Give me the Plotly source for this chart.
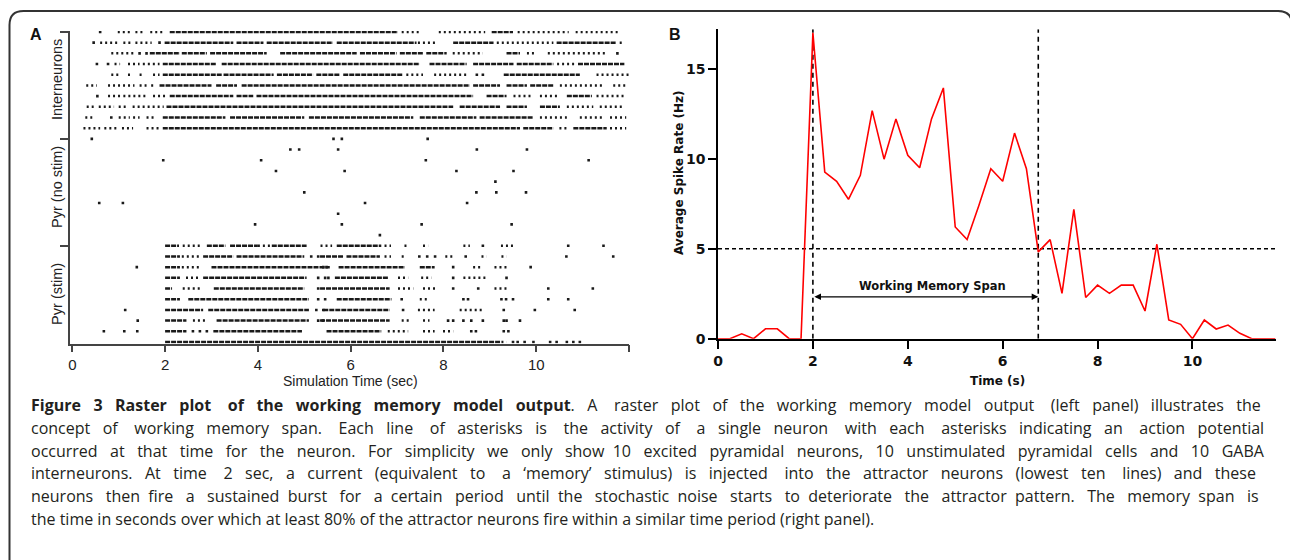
import plotly.graph_objects as go

W, H = 1290, 560


def px(x):
    return x / W


def py(y):
    return 1 - y / H


# ---------------- Panel A : raster (times in seconds, row index 0..29) ----------------
# Interneurons (rows 20-29): dense firing stretches, sparse stretches, isolated spikes
inter_dense = {
    29: [[2.10, 7.02], [9.04, 9.50]],
    28: [[1.99, 3.47], [3.54, 4.12], [4.19, 5.62], [5.70, 7.42], [8.21, 9.08], [10.44, 11.73]],
    27: [[1.67, 2.32], [2.36, 2.90], [2.97, 4.19], [4.48, 6.13], [6.20, 6.99], [7.06, 7.56], [7.63, 8.07], [9.36, 9.65]],
    26: [[1.95, 3.11], [3.22, 7.49], [7.70, 8.50], [8.64, 9.51], [9.58, 10.37], [10.90, 11.90]],
    25: [[1.95, 3.22], [3.26, 4.34], [4.41, 5.19], [5.26, 5.77], [5.84, 7.13], [9.30, 10.94]],
    24: [[1.88, 3.00], [3.10, 3.55], [3.65, 8.57], [8.64, 9.22], [9.36, 9.80], [9.87, 10.37]],
    23: [[2.10, 3.47], [3.54, 3.90], [3.97, 8.64], [8.93, 9.36], [10.66, 11.20]],
    22: [[2.03, 8.21], [8.35, 9.22], [9.36, 9.80], [10.08, 10.51]],
    21: [[1.95, 3.30], [3.40, 5.00], [5.10, 7.35], [7.49, 8.71], [8.78, 9.94]],
    20: [[1.95, 9.65], [9.72, 10.37], [10.80, 11.52]],
}
inter_sparse = {
    29: [[0.98, 1.29], [1.36, 1.53], [1.68, 2.00], [7.10, 7.50], [7.90, 8.90], [9.60, 10.70], [10.85, 11.80]],
    28: [[0.60, 1.03], [1.10, 1.29], [1.36, 1.71], [7.45, 7.88], [9.15, 10.37], [11.80, 11.90]],
    27: [[0.84, 1.34], [8.20, 8.85], [9.80, 10.00], [10.25, 11.50]],
    26: [[0.91, 1.03], [1.20, 1.45], [1.52, 1.88], [10.45, 10.85]],
    25: [[0.84, 1.00], [1.20, 1.30], [1.45, 1.55], [1.74, 1.88], [7.20, 7.56], [7.80, 8.50], [11.30, 12.00]],
    24: [[0.30, 0.53], [0.77, 1.34], [1.45, 1.60], [1.70, 1.80], [10.51, 11.45], [11.66, 11.94]],
    23: [[0.77, 1.03], [1.10, 1.60], [1.74, 2.03], [9.51, 9.94], [10.08, 10.51], [11.30, 11.94]],
    22: [[0.31, 0.46], [0.57, 0.90], [1.00, 1.15], [1.30, 1.97], [10.66, 11.23], [11.37, 11.87]],
    21: [[0.28, 0.43], [1.00, 1.24], [1.31, 1.45], [1.60, 1.80], [10.08, 10.66], [10.94, 11.45], [11.59, 11.94]],
    20: [[0.24, 0.60], [0.69, 0.98], [1.07, 1.31], [1.60, 1.90], [10.50, 10.66], [11.59, 11.94]],
}
inter_spikes = {
    29: [0.60], 28: [0.46, 1.88], 27: [1.45, 1.60, 11.75], 26: [0.53, 0.77],
    25: [8.72, 8.85], 23: [0.54], 21: [0.84],
}

# Pyramidal, not stimulated (rows 10-19): isolated spikes only
nostim_spikes = {
    19: [0.42, 5.63, 5.81, 7.66],
    18: [4.70, 4.89, 5.73, 8.72, 9.80],
    17: [1.96, 4.07, 7.62, 11.13],
    16: [4.39, 5.87, 8.28, 9.51],
    15: [9.12],
    14: [5.00, 8.71, 9.14, 9.78],
    13: [0.58, 1.09, 6.31, 8.51],
    12: [5.73],
    11: [3.94, 5.81, 7.53, 9.47],
    10: [6.63],
}

# Pyramidal, stimulated (rows 0-9)
stim_dense = {
    9: [[2.00, 2.30], [2.90, 3.30], [3.40, 4.00], [4.30, 5.05], [5.70, 6.66]],
    8: [[2.00, 2.32], [2.82, 3.47], [3.54, 5.00], [5.34, 5.84], [5.91, 6.63]],
    7: [[2.00, 2.32], [3.00, 5.55], [5.74, 7.17], [7.49, 7.81]],
    6: [[2.00, 2.32], [2.82, 5.05], [5.66, 6.81]],
    5: [[2.00, 2.15], [3.05, 5.00], [5.34, 6.84]],
    4: [[2.00, 2.32], [2.50, 5.10], [5.70, 6.88]],
    3: [[2.00, 2.82], [2.93, 5.10], [5.41, 6.84]],
    2: [[2.00, 2.46], [3.11, 5.10], [5.34, 6.84]],
    1: [[2.00, 2.46], [3.04, 4.95], [5.48, 6.66]],
    0: [[2.00, 9.22]],
}
stim_sparse = {
    9: [[2.38, 2.75], [4.00, 4.30], [5.35, 5.60], [6.73, 6.87], [7.16, 7.24], [7.56, 7.67], [8.43, 8.57], [9.24, 9.50]],
    8: [[2.36, 2.75], [6.73, 6.87], [7.10, 7.20], [8.04, 8.21], [8.82, 8.93], [9.25, 9.36]],
    7: [[2.36, 2.75], [8.64, 8.82], [9.10, 9.36]],
    6: [[2.45, 2.75], [7.02, 7.24], [7.52, 7.74], [8.43, 8.93]],
    5: [[2.38, 2.75], [7.02, 7.35], [7.56, 7.88], [9.10, 9.36]],
    4: [[7.49, 7.70]],
    3: [[7.45, 7.81], [8.35, 8.85]],
    2: [[2.60, 2.89], [7.10, 7.31], [7.56, 7.70]],
    1: [[6.80, 7.24], [7.56, 7.81], [7.99, 8.21]],
    0: [[9.25, 9.36]],
}
stim_spikes = {
    9: [8.85, 10.69, 11.45],
    8: [5.15, 5.30, 7.48, 7.65, 7.82, 8.48, 10.65, 11.66],
    7: [1.39, 5.41, 5.48, 8.21, 9.88],
    6: [5.30, 5.45, 5.52, 8.21, 9.36],
    5: [5.30, 8.21, 8.75, 10.26, 11.22],
    4: [5.30, 5.45, 7.10, 8.43, 8.53, 9.25, 9.35, 9.50, 10.26, 10.69],
    3: [1.14, 5.26, 5.41, 7.13, 9.30, 9.97, 10.83],
    2: [1.41, 5.30, 5.40, 8.10, 8.21, 8.43, 8.60, 8.85, 9.30, 9.36, 9.65],
    1: [0.68, 1.12, 1.40, 2.60, 2.75, 2.90, 8.60, 8.70, 9.30, 9.40],
    0: [9.50, 9.60, 9.75, 9.94, 10.30, 10.44, 10.66, 10.80, 10.94],
}

raster_ticks = [9, 19, 29]
group_labels = ["Pyr (stim)", "Pyr (no stim)", "Interneurons"]
group_centers = [4.5, 14.5, 24.5]
raster_xticks = [0, 2, 4, 6, 8, 10, 12]
raster_xticktext = ["0", "2", "4", "6", "8", "10", ""]

# ---------------- Panel B : average spike rate ----------------
rate_time = [0, 0.25, 0.5, 0.75, 1.0, 1.25, 1.5, 1.75, 2.0, 2.25, 2.5, 2.75,
             3.0, 3.25, 3.5, 3.75, 4.0, 4.25, 4.5, 4.75, 5.0, 5.25, 5.5, 5.75,
             6.0, 6.25, 6.5, 6.75, 7.0, 7.25, 7.5, 7.75, 8.0, 8.25, 8.5, 8.75,
             9.0, 9.25, 9.5, 9.75, 10.0, 10.25, 10.5, 10.75, 11.0, 11.25, 11.5, 11.75]
rate_hz = [0, 0, 0.27, 0, 0.55, 0.55, 0, 0, 17.0, 9.26, 8.75, 7.75,
           9.08, 12.68, 9.98, 12.22, 10.2, 9.5, 12.22, 13.94, 6.21, 5.51, 7.42, 9.45,
           8.75, 11.43, 9.45, 4.83, 5.51, 2.52, 7.19, 2.29, 2.98, 2.52, 2.98, 2.98,
           1.54, 5.25, 1.04, 0.8, 0, 1.04, 0.54, 0.76, 0.3, 0, 0, 0]
span_start, span_end = 2.0, 6.75
threshold = 5
arrow_level = 2.33
span_label = "Working Memory Span"
rate_xticks = [0, 2, 4, 6, 8, 10]
rate_yticks = [0, 5, 10, 15]
rate_xmax, rate_ymax = 11.75, 17.2

caption_lines = [
    "<b>Figure 3 Raster plot of the working memory model output</b>. A raster plot of the working memory model output (left panel) illustrates the",
    "concept of working memory span. Each line of asterisks is the activity of a single neuron with each asterisks indicating an action potential",
    "occurred at that time for the neuron. For simplicity we only show 10 excited pyramidal neurons, 10 unstimulated pyramidal cells and 10 GABA",
    "interneurons. At time 2 sec, a current (equivalent to a \u2018memory\u2019 stimulus) is injected into the attractor neurons (lowest ten lines) and these",
    "neurons then fire a sustained burst for a certain period until the stochastic noise starts to deteriorate the attractor pattern. The memory span is",
    "the time in seconds over which at least 80% of the attractor neurons fire within a similar time period (right panel).",
]
# extra non-breaking spaces used to justify each caption line (layout only)
caption_pad = [47, 52, 43, 48, 38, 0]


def justify(line, extra):
    words = line.split(" ")
    gaps = len(words) - 1
    if extra <= 0 or gaps <= 0:
        return line
    out = words[0]
    given = 0
    for i in range(1, len(words)):
        target = round(extra * i / gaps)
        n = target - given
        given = target
        out += " " + "\u00a0" * n + words[i]
    return out


def seg_xy(*dicts):
    xs, ys = [], []
    for d in dicts:
        for row, ivs in d.items():
            for s, e in ivs:
                xs += [s, e, None]
                ys += [row, row, None]
    return xs, ys


def pts_xy(*dicts):
    xs, ys = [], []
    for d in dicts:
        for row, ts in d.items():
            xs += ts
            ys += [row] * len(ts)
    return xs, ys


INK = "#1a1a1a"
fig = go.Figure()

dx, dy = seg_xy(inter_dense, stim_dense)
fig.add_trace(go.Scatter(x=dx, y=dy, mode="lines", xaxis="x", yaxis="y",
                         line=dict(color=INK, width=2.5, dash="5px,1px"), hoverinfo="skip"))
sx, sy = seg_xy(inter_sparse, stim_sparse)
fig.add_trace(go.Scatter(x=sx, y=sy, mode="lines", xaxis="x", yaxis="y",
                         line=dict(color=INK, width=2.5, dash="2px,3px"), hoverinfo="skip"))
kx, ky = pts_xy(inter_spikes, nostim_spikes, stim_spikes)
fig.add_trace(go.Scatter(x=kx, y=ky, mode="markers", xaxis="x", yaxis="y",
                         marker=dict(symbol="square", size=2.6, color=INK, line=dict(width=0)),
                         hoverinfo="skip"))

# Panel B traces
fig.add_trace(go.Scatter(x=[0, rate_xmax], y=[threshold, threshold], mode="lines",
                         xaxis="x2", yaxis="y2",
                         line=dict(color="black", width=1.4, dash="4px,3px"), hoverinfo="skip"))
for t in (span_start, span_end):
    fig.add_trace(go.Scatter(x=[t, t], y=[0, rate_ymax], mode="lines", xaxis="x2", yaxis="y2",
                             line=dict(color="black", width=1.6, dash="5px,4px"), hoverinfo="skip"))
fig.add_trace(go.Scatter(x=rate_time, y=rate_hz, mode="lines", xaxis="x2", yaxis="y2",
                         line=dict(color="#ff0000", width=1.6), hoverinfo="skip"))

axis_common = dict(showgrid=False, zeroline=False, showline=True, ticks="outside", automargin=False)

fig.update_layout(
    template="none",
    width=W, height=H, autosize=False,
    margin=dict(l=0, r=0, t=0, b=0, pad=0, autoexpand=False),
    paper_bgcolor="white", plot_bgcolor="rgba(0,0,0,0)",
    showlegend=False,
    xaxis=dict(domain=[px(70), px(629)], range=[-0.05, 12], anchor="y",
               tickvals=raster_xticks, ticktext=raster_xticktext,
               linecolor="#444", linewidth=1.5, tickcolor="#444", tickwidth=1.5, ticklen=7,
               tickfont=dict(family="Liberation Sans", size=15, color="#222"),
               **axis_common),
    yaxis=dict(domain=[py(343.5), py(31)], range=[-0.14, 29.09], anchor="x",
               tickvals=raster_ticks, ticktext=["", "", ""],
               linecolor="#444", linewidth=1.5, tickcolor="#444", tickwidth=1.5, ticklen=8,
               **axis_common),
    xaxis2=dict(domain=[px(718), px(1275.5)], range=[0, rate_xmax], anchor="y2",
                tickvals=rate_xticks,
                linecolor="black", linewidth=1.5, tickcolor="black", tickwidth=1.5, ticklen=9,
                tickfont=dict(family="DejaVu Sans", size=14, color="#111", weight="bold"),
                **axis_common),
    yaxis2=dict(domain=[py(338.7), py(29.3)], range=[0, rate_ymax], anchor="x2",
                tickvals=rate_yticks,
                linecolor="black", linewidth=1.5, tickcolor="black", tickwidth=1.5, ticklen=8,
                tickfont=dict(family="DejaVu Sans", size=14, color="#111", weight="bold"),
                **axis_common),
)

C = dict(xanchor="center", yanchor="middle", showarrow=False)
ann = []
# panel letters
ann.append(dict(text="<b>A</b>", x=px(35.5), y=py(34), xref="paper", yref="paper",
                font=dict(family="Liberation Sans", size=16, color="#111"), **C))
ann.append(dict(text="<b>B</b>", x=px(675), y=py(34), xref="paper", yref="paper",
                font=dict(family="Liberation Sans", size=16, color="#111"), **C))
# raster group labels
for lab, c in zip(group_labels, group_centers):
    ann.append(dict(text=lab, x=px(57), y=c, xref="paper", yref="y", textangle=-90,
                    font=dict(family="Liberation Sans", size=14.5, color="#222"), **C))
ann.append(dict(text="Simulation Time (sec)", x=px(350), y=py(381), xref="paper", yref="paper",
                font=dict(family="Liberation Sans", size=14, color="#222"), **C))
# panel B titles
ann.append(dict(text="Average Spike Rate (Hz)", x=px(679), y=py(173), xref="paper", yref="paper",
                textangle=-90,
                font=dict(family="DejaVu Sans", size=12, color="#111", weight="bold"), **C))
ann.append(dict(text="Time (s)", x=px(997), y=py(381), xref="paper", yref="paper",
                font=dict(family="DejaVu Sans", size=12, color="#111", weight="bold"), **C))
# span arrow + label
ann.append(dict(x=span_end, y=arrow_level, ax=span_start, ay=arrow_level,
                xref="x2", yref="y2", axref="x2", ayref="y2", text="",
                showarrow=True, arrowside="end+start", arrowhead=2, arrowsize=1.1,
                arrowwidth=1.2, arrowcolor="black"))
ann.append(dict(text=span_label, x=(span_start + span_end) / 2 + 0.14, y=arrow_level + 0.6,
                xref="x2", yref="y2",
                font=dict(family="DejaVu Sans", size=11.5, color="#111", weight="bold"), **C))
# caption
for i, line in enumerate(caption_lines):
    ann.append(dict(text=justify(line, caption_pad[i]), x=px(29), y=py(405 + 22.8 * i),
                    xref="paper", yref="paper",
                    xanchor="left", yanchor="middle", showarrow=False,
                    font=dict(family="Open Sans", size=16, color="#231f20")))
fig.update_layout(annotations=ann)

# rounded frame
x0, x1, yt, yb, r = 9.5, 1292, 11, 580, 14
path = (f"M {px(x0)},{py(yb)} L {px(x0)},{py(yt + r)} Q {px(x0)},{py(yt)} {px(x0 + r)},{py(yt)} "
        f"L {px(x1 - r)},{py(yt)} Q {px(x1)},{py(yt)} {px(x1)},{py(yt + r)} L {px(x1)},{py(yb)}")
fig.add_shape(type="path", path=path, xref="paper", yref="paper",
              line=dict(color="#333", width=2))

fig.write_html("out.html", config={"displayModeBar": False},
               post_script="document.body.style.margin='0';document.body.style.overflow='hidden';")
